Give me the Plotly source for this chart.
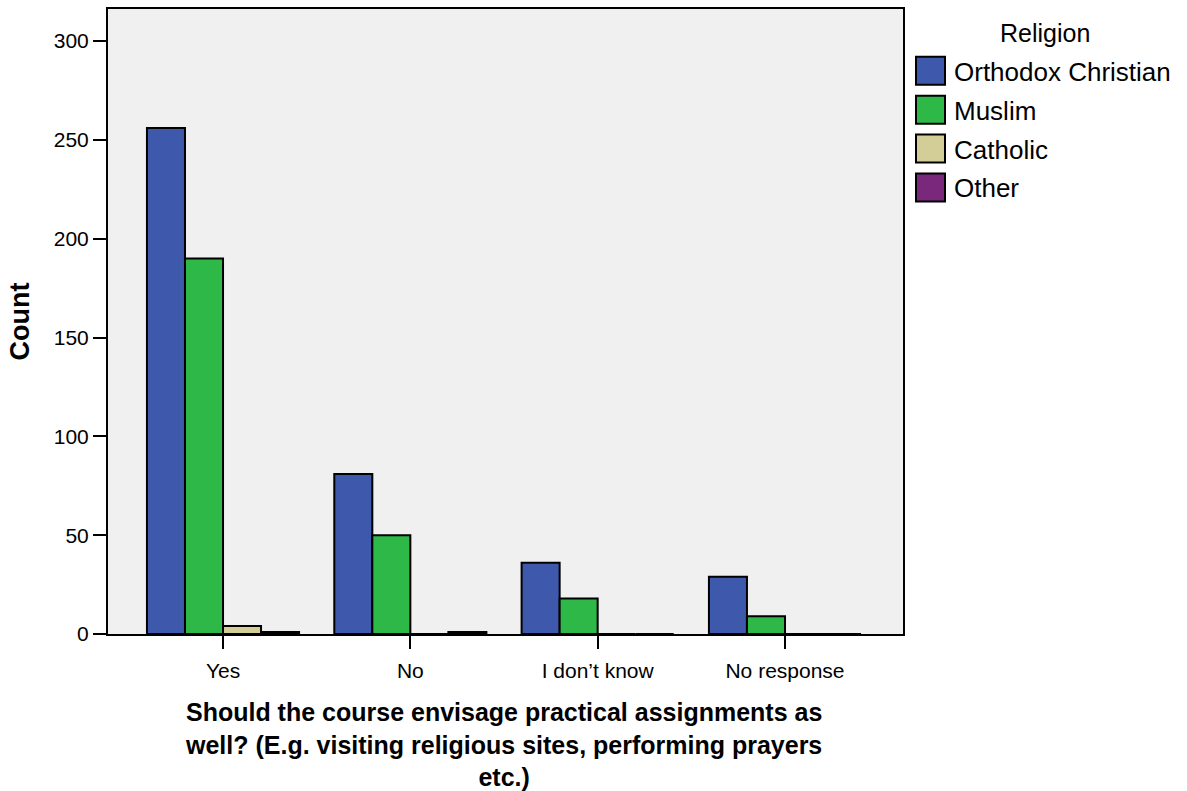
import plotly.graph_objects as go

categories = ["Yes", "No", "I don\u2019t know", "No response"]
religions = ["Orthodox Christian", "Muslim", "Catholic", "Other"]
orthodox = [256, 81, 36, 29]
muslim = [190, 50, 18, 9]
catholic = [4, 0, 0, 0]
other = [1, 1, 0, 0]
series = [orthodox, muslim, catholic, other]
colors = ["#3E58AC", "#2EB848", "#D3CE97", "#7A287B"]
x_title_lines = [
    "Should the course envisage practical assignments as",
    "well? (E.g. visiting religious sites, performing prayers",
    "etc.)",
]

FONT = "Liberation Sans, Arial, sans-serif"
W, H = 1187, 791
L, R, T, B = 108, 284, 7, 157
pw, ph = W - L - R, H - T - B


def px(x):
    return (x - L) / pw


def py(y):
    return (H - B - y) / ph


fig = go.Figure()
for name, vals, col in zip(religions, series, colors):
    fig.add_trace(go.Bar(
        x=categories, y=vals, name=name, showlegend=False,
        marker=dict(color=col, line=dict(color="black", width=2)),
    ))

shapes = []
annotations = []
# custom legend
annotations.append(dict(text="Religion", x=px(1045), y=py(31), xref="paper", yref="paper",
                        showarrow=False, xanchor="center", yanchor="middle",
                        font=dict(family=FONT, size=25, color="black")))
for i, (name, col) in enumerate(zip(religions, colors)):
    top = 55 + 39 * i
    shapes.append(dict(type="rect", xref="paper", yref="paper",
                       x0=px(916), x1=px(945), y0=py(top + 28), y1=py(top),
                       fillcolor=col, line=dict(color="black", width=2)))
    annotations.append(dict(text=name, x=px(952), y=py(top + 15), xref="paper", yref="paper",
                            showarrow=False, xanchor="left", yanchor="middle",
                            font=dict(family=FONT, size=26, color="black")))
# x title
annotations.append(dict(text="<b>" + "<br>".join(x_title_lines) + "</b>",
                        x=px(503), y=py(745), xref="paper", yref="paper", showarrow=False,
                        xanchor="center", yanchor="middle", align="center",
                        font=dict(family=FONT, size=25, color="black")))

fig.update_layout(
    width=W, height=H,
    margin=dict(l=L, r=R, t=T, b=B, pad=0),
    paper_bgcolor="white", plot_bgcolor="#F0F0F0",
    barmode="group", bargap=0.188, bargroupgap=0,
    font=dict(family=FONT, size=21, color="black"),
    shapes=shapes, annotations=annotations,
    xaxis=dict(
        type="category", range=[-0.614, 3.63],
        showline=True, linecolor="black", linewidth=2, mirror=True,
        ticks="outside", ticklen=13, tickwidth=2, tickcolor="black",
        showgrid=False, zeroline=False, ticklabelstandoff=4,
        tickfont=dict(family=FONT, size=21),
    ),
    yaxis=dict(
        range=[0, 316.2], tickvals=[0, 50, 100, 150, 200, 250, 300],
        showline=True, linecolor="black", linewidth=2, mirror=True,
        ticks="outside", ticklen=13, tickwidth=2, tickcolor="black",
        showgrid=False, zeroline=False,
        tickfont=dict(family=FONT, size=21),
        title=dict(text="<b>Count</b>", font=dict(family=FONT, size=27), standoff=16),
    ),
)

fig.write_html("out.html", config={"displayModeBar": False},
               post_script="document.body.style.margin='0';document.body.style.overflow='hidden';")
